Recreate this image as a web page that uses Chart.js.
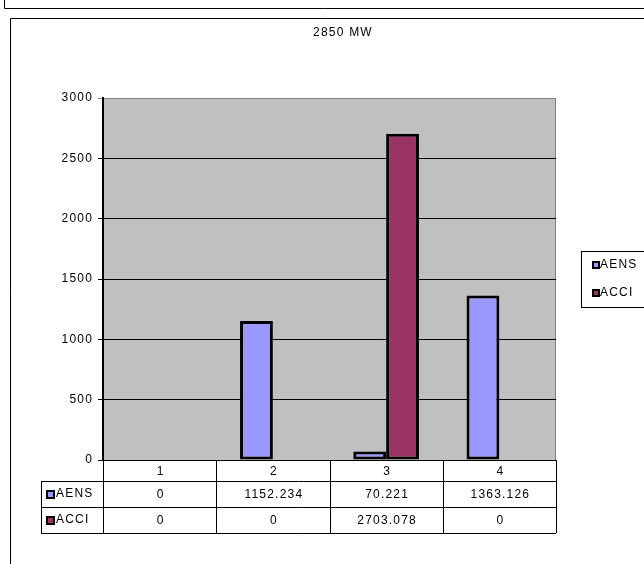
<!DOCTYPE html>
<html>
<head>
<meta charset="utf-8">
<script src="https://cdn.jsdelivr.net/npm/chart.js@4"></script>
<style>
  html, body { margin: 0; padding: 0; background: #ffffff; }
  #wrap { width: 644px; height: 564px; position: relative; }
</style>
</head>
<body>
<div id="wrap"><canvas id="chart" width="644" height="564"></canvas></div>
<script>
const categories = ['1', '2', '3', '4'];
const aensValues = [0, 1152.234, 70.221, 1363.126];
const acciValues = [0, 0, 2703.078, 0];
const aensLabels = ['0', '1152.234', '70.221', '1363.126'];
const acciLabels = ['0', '0', '2703.078', '0'];
const yTicks = [0, 500, 1000, 1500, 2000, 2500, 3000];
const chartTitle = '2850 MW';

const FONT = '"Liberation Sans", Arial, sans-serif';
const SPACING = '1.2px';

// frame, plot background, title
const backdrop = {
    id: 'backdrop',
    beforeDraw(chart) {
        const ctx = chart.ctx;
        const a = chart.chartArea;
        // spaced-out lettering like the original, kept for all text
        ctx.letterSpacing = SPACING;
        ctx.save();
        ctx.fillStyle = '#ffffff';
        ctx.fillRect(0, 0, chart.width, chart.height);
        ctx.strokeStyle = '#000000';
        ctx.lineWidth = 1;
        // top strip box
        ctx.beginPath();
        ctx.moveTo(4.5, 0);
        ctx.lineTo(4.5, 8.5);
        ctx.lineTo(chart.width, 8.5);
        ctx.stroke();
        // chart frame
        ctx.beginPath();
        ctx.moveTo(10.5, chart.height);
        ctx.lineTo(10.5, 18.5);
        ctx.lineTo(chart.width, 18.5);
        ctx.stroke();
        // plot background
        ctx.fillStyle = '#c0c0c0';
        ctx.fillRect(a.left, a.top, a.right - a.left, a.bottom - a.top);
        ctx.strokeStyle = '#808080';
        ctx.strokeRect(a.left + 0.5, a.top + 0.5, a.right - a.left - 1, a.bottom - a.top);
        // title
        ctx.fillStyle = '#000000';
        ctx.font = '12px ' + FONT;
        ctx.textAlign = 'center';
        ctx.textBaseline = 'middle';
        ctx.fillText(chartTitle, 343, 33);
        ctx.restore();
    }
};

// data table under the plot
const dataTable = {
    id: 'dataTable',
    afterDraw(chart) {
        const ctx = chart.ctx;
        const a = chart.chartArea;
        const x = chart.scales.x;
        const catW = (a.right - a.left) / categories.length;
        const rowTop = [a.bottom, a.bottom + 21, a.bottom + 47, a.bottom + 73];
        const leftX = 41;
        ctx.save();
        ctx.strokeStyle = '#000000';
        ctx.lineWidth = 1;
        ctx.beginPath();
        ctx.moveTo(a.left, rowTop[0] + 0.5);
        ctx.lineTo(a.right, rowTop[0] + 0.5);
        for (let r = 1; r < rowTop.length; r++) {
            ctx.moveTo(leftX, rowTop[r] + 0.5);
            ctx.lineTo(a.right, rowTop[r] + 0.5);
        }
        ctx.moveTo(leftX + 0.5, rowTop[1]);
        ctx.lineTo(leftX + 0.5, rowTop[3]);
        for (let i = 0; i <= categories.length; i++) {
            const px = Math.round(a.left + i * catW) + 0.5;
            ctx.moveTo(px, rowTop[0]);
            ctx.lineTo(px, rowTop[3]);
        }
        ctx.stroke();

        ctx.fillStyle = '#000000';
        ctx.font = '12px ' + FONT;
        ctx.textAlign = 'center';
        ctx.textBaseline = 'middle';
        const rows = [categories, aensLabels, acciLabels];
        rows.forEach((row, r) => {
            const cy = (rowTop[r] + rowTop[r + 1]) / 2 + 1;
            row.forEach((txt, i) => {
                ctx.fillText(txt, x.getPixelForValue(i) + 1, cy);
            });
        });
        // series keys
        chart.data.datasets.forEach((ds, d) => {
            const cy = (rowTop[d + 1] + rowTop[d + 2]) / 2;
            ctx.fillStyle = ds.backgroundColor;
            ctx.fillRect(leftX + 6, cy - 3, 7, 7);
            ctx.strokeStyle = '#000000';
            ctx.lineWidth = 2;
            ctx.strokeRect(leftX + 6, cy - 3, 7, 7);
            ctx.fillStyle = '#000000';
            ctx.textAlign = 'left';
            ctx.fillText(ds.label, leftX + 15, cy);
        });
        ctx.restore();
    }
};

// legend box on the right
const sideLegend = {
    id: 'sideLegend',
    afterDraw(chart) {
        const ctx = chart.ctx;
        const bx = 581, by = 251;
        ctx.save();
        ctx.strokeStyle = '#000000';
        ctx.lineWidth = 1;
        ctx.strokeRect(bx + 0.5, by + 0.5, chart.width - bx + 5, 56);
        ctx.font = '12px ' + FONT;
        ctx.textBaseline = 'middle';
        ctx.textAlign = 'left';
        chart.data.datasets.forEach((ds, d) => {
            const cy = by + 14 + d * 28;
            ctx.fillStyle = ds.backgroundColor;
            ctx.fillRect(bx + 12, cy - 3, 6, 6);
            ctx.strokeStyle = '#000000';
            ctx.lineWidth = 2;
            ctx.strokeRect(bx + 12, cy - 3, 6, 6);
            ctx.fillStyle = '#000000';
            ctx.fillText(ds.label, bx + 19, cy);
        });
        ctx.restore();
    }
};

new Chart(document.getElementById('chart'), {
    type: 'bar',
    data: {
        labels: categories,
        datasets: [{
            label: 'AENS',
            data: aensValues,
            backgroundColor: '#9999ff',
            borderColor: '#000000',
            borderWidth: 3,
            borderSkipped: false
        }, {
            label: 'ACCI',
            data: acciValues,
            backgroundColor: '#993366',
            borderColor: '#000000',
            borderWidth: 3,
            borderSkipped: false
        }]
    },
    options: {
        responsive: false,
        animation: false,
        devicePixelRatio: 1,
        layout: {
            padding: { left: 0, right: 88, top: 98, bottom: 104 }
        },
        datasets: {
            bar: {
                barPercentage: 1,
                categoryPercentage: 0.58
            }
        },
        plugins: {
            legend: { display: false },
            title: { display: false },
            tooltip: { enabled: false }
        },
        scales: {
            x: {
                display: false
            },
            y: {
                min: 0,
                max: 3000,
                afterFit(scale) { scale.width = 103; },
                afterBuildTicks(scale) { scale.ticks = yTicks.map(v => ({ value: v })); },
                border: { display: true, color: '#000000', width: 2 },
                grid: {
                    // top edge of the plot stays grey like its frame
                    color: c => (c.tick && c.tick.value === 3000 ? '#808080' : '#000000'),
                    lineWidth: 1,
                    tickLength: 5,
                    drawOnChartArea: true
                },
                ticks: {
                    color: '#000000',
                    padding: 5,
                    font: { family: FONT, size: 12 },
                    callback: v => String(v)
                }
            }
        }
    },
    plugins: [backdrop, dataTable, sideLegend]
});
</script>
</body>
</html>
